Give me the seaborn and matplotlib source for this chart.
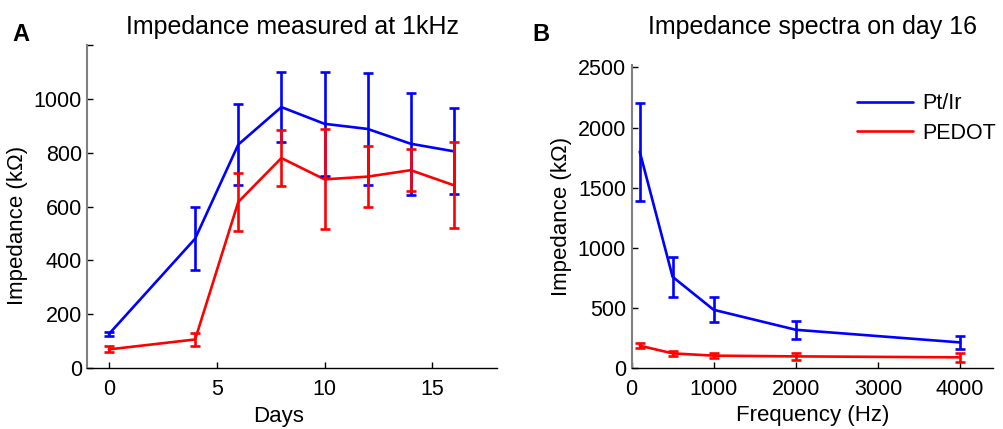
import matplotlib
matplotlib.use('Agg')
import matplotlib.pyplot as plt
import numpy as np
import pandas as pd
import seaborn as sns

# panel A: impedance at 1 kHz over days
days = [0, 4, 6, 8, 10, 12, 14, 16]
ptir_1k = [127, 481, 830, 969, 907, 888, 833, 805]
ptir_1k_err = [9, 118, 149, 131, 192, 208, 189, 159]
pedot_1k = [70, 107, 617, 780, 701, 711, 735, 679]
pedot_1k_err = [11, 25, 108, 105, 186, 112, 77, 159]

# panel B: spectra on day 16
freqs = [100, 500, 1000, 2000, 4000]
ptir_spec = [1800, 760, 486, 320, 215]
ptir_spec_err = [408, 168, 104, 73, 52]
pedot_spec = [188, 124, 105, 99, 91]
pedot_spec_err = [22, 20, 20, 26, 36]

series_names = ['Pt/Ir', 'PEDOT']
colors = ['#0000ff', '#ff0000']

sns.set_style('white', {'xtick.bottom': True, 'ytick.left': True,
                        'text.color': 'black', 'axes.labelcolor': 'black',
                        'xtick.color': 'black', 'ytick.color': 'black'})
plt.rcParams['font.family'] = ['Liberation Sans', 'DejaVu Sans']
FS = 15.5


def style_axis(ax):
    sns.despine(ax=ax)
    ax.spines['left'].set_color('#808080')
    ax.spines['left'].set_linewidth(1.5)
    ax.spines['bottom'].set_color('black')
    ax.spines['bottom'].set_linewidth(1.0)
    ax.tick_params(direction='in', length=4, width=1, labelsize=FS)
    ax.tick_params(axis='x', pad=8)
    ax.tick_params(axis='y', pad=4)


def draw_panel(ax, x, ys, errs):
    rows = []
    for name, y in zip(series_names, ys):
        for xi, yi in zip(x, y):
            rows.append({'x': xi, 'y': yi, 'series': name})
    df = pd.DataFrame(rows)
    sns.lineplot(data=df, x='x', y='y', hue='series', palette=colors,
                 hue_order=series_names, linewidth=1.9, ax=ax, errorbar=None)
    for y, e, c in zip(ys, errs, colors):
        ax.errorbar(x, y, yerr=e, fmt='none', ecolor=c, elinewidth=1.9,
                    capsize=3.6, capthick=1.9)


fig = plt.figure(figsize=(10.04, 4.29), dpi=100)
ax1 = fig.add_axes([0.087, 0.1415, 0.408, 0.754])
ax2 = fig.add_axes([0.629, 0.1415, 0.360, 0.707])

draw_panel(ax1, days, [ptir_1k, pedot_1k], [ptir_1k_err, pedot_1k_err])
ax1.set_xlim(-1, 18)
ax1.set_ylim(0, 1200)
ax1.set_xticks([0, 5, 10, 15])
ax1.set_yticks([0, 200, 400, 600, 800, 1000, 1200])
ax1.set_yticklabels(['0', '200', '400', '600', '800', '1000', ''])
ax1.set_xlabel('Days', fontsize=FS + 0.5)
ax1.set_ylabel('Impedance (kΩ)', fontsize=FS + 0.5)
ax1.xaxis.set_label_coords(0.466, -0.118)
ax1.yaxis.set_label_coords(-0.145, 0.443)
ax1.set_title('Impedance measured at 1kHz', fontsize=18, pad=8)
ax1.get_legend().remove()
style_axis(ax1)

draw_panel(ax2, freqs, [ptir_spec, pedot_spec], [ptir_spec_err, pedot_spec_err])
ax2.set_xlim(0, 4400)
ax2.set_ylim(0, 2520)
ax2.set_xticks([0, 1000, 2000, 3000, 4000])
ax2.set_yticks([0, 500, 1000, 1500, 2000, 2500])
ax2.set_xlabel('Frequency (Hz)', fontsize=FS + 0.5, labelpad=3)
ax2.set_ylabel('Impedance (kΩ)', fontsize=FS + 0.5, labelpad=4)
ax2.set_title('Impedance spectra on day 16', fontsize=18, pad=22)
ax2.legend(loc='upper right', bbox_to_anchor=(1.045, 0.95), frameon=False,
           fontsize=15.5, handlelength=2.6, handletextpad=0.45, labelspacing=0.4,
           borderaxespad=0.2)
style_axis(ax2)

fig.text(0.012, 0.905, 'A', fontsize=17, fontweight='bold')
fig.text(0.530, 0.905, 'B', fontsize=17, fontweight='bold')

fig.savefig('out.png', dpi=100)
